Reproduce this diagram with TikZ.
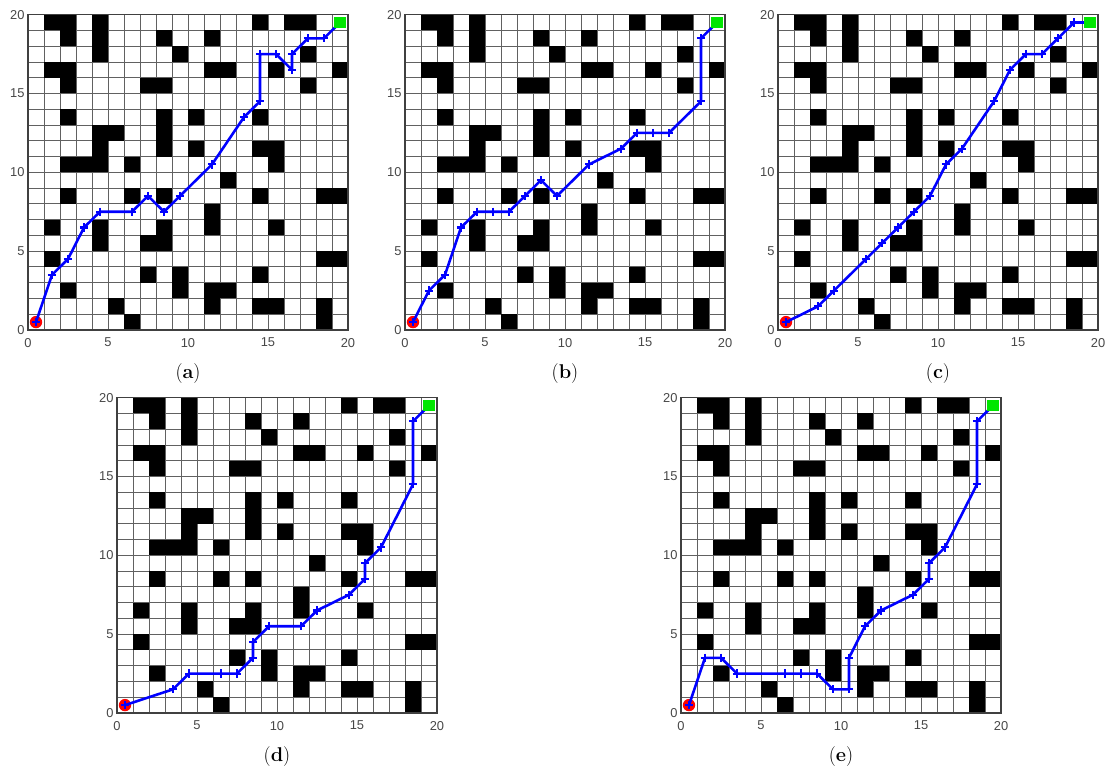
\documentclass[tikz,border=0pt]{standalone}
\usepackage{fontspec}
\setsansfont{Liberation Sans}
\usepackage{tikz}
\usepackage{xcolor}

\definecolor{routeblue}{RGB}{0,0,255}
\definecolor{goalgreen}{RGB}{0,230,0}
\definecolor{startred}{RGB}{255,0,0}

\newcommand{\blocks}{1/19,2/19,4/19,14/19,16/19,17/19,
  2/18,4/18,8/18,11/18,
  4/17,9/17,17/17,
  1/16,2/16,11/16,12/16,15/16,19/16,
  2/15,7/15,8/15,17/15,
  2/13,8/13,10/13,14/13,
  4/12,5/12,8/12,
  4/11,8/11,10/11,14/11,15/11,
  2/10,3/10,4/10,6/10,15/10,
  12/9,
  2/8,6/8,8/8,14/8,18/8,19/8,
  11/7,
  1/6,4/6,8/6,11/6,15/6,
  4/5,7/5,8/5,
  1/4,18/4,19/4,
  7/3,9/3,14/3,
  2/2,9/2,11/2,12/2,
  5/1,11/1,14/1,15/1,18/1,
  6/0,18/0}

\newcommand{\mazepanel}[4]{%
  \begin{scope}[xshift=#2cm, yshift=#3cm, x=0.48cm, y=0.473cm]
    \foreach \gl in {1,...,19} {
      \draw[cellline] (\gl,0) -- (\gl,20);
      \draw[cellline] (0,\gl) -- (20,\gl);
    }
    \foreach \cx/\cy in \blocks
      \fill[black] (\cx,\cy) rectangle ++(1,1);
    \draw[frameline] (0,0) rectangle (20,20);
    \foreach \tk in {0,5,10,15,20} {
      \node[ticklabel] (#1-x\tk) at (\tk,-0.8) {\tk};
      \node[ticklabel, anchor=east] (#1-y\tk) at (-0.2,\tk) {\tk};
    }
    \fill[startred] (0.5,0.5) circle (0.185cm);
    \draw[route] plot coordinates {#4};
    \node[goalbox] (#1-goal) at (19.5,19.5) {};
    \node[sublabel] (#1-label) at (10,-2.75) {(\textbf{#1})};
  \end{scope}}

\begin{document}
\begin{tikzpicture}[
    cellline/.style={black!62, line width=0.75pt},
    frameline/.style={black!75, line width=0.9pt},
    ticklabel/.style={font=\sffamily\fontsize{11}{13}\selectfont, text=black!72, inner sep=0pt},
    route/.style={routeblue, line width=2.2pt, line join=round, mark=+, mark size=3.5pt, mark options={line width=1.8pt}},
    goalbox/.style={rectangle, fill=goalgreen, inner sep=0pt, minimum size=0.35cm},
    sublabel/.style={font=\fontsize{17}{20}\selectfont, inner sep=0pt}]
    \useasboundingbox (0,0) rectangle (33.21,23.19);

    \mazepanel{a}{0.84}{13.29}{(0.5,0.5) (1.5,3.5) (2.5,4.5) (3.5,6.5) (4.5,7.5) (6.5,7.5) (7.5,8.5) (8.5,7.5) (9.5,8.5) (11.5,10.5) (13.5,13.5) (14.5,14.5) (14.5,17.5) (15.5,17.5) (16.5,16.5) (16.5,17.5) (17.5,18.5) (18.5,18.5) (19.5,19.5)}
    \mazepanel{b}{12.15}{13.29}{(0.5,0.5) (1.5,2.5) (2.5,3.5) (3.5,6.5) (4.5,7.5) (5.5,7.5) (6.5,7.5) (7.5,8.5) (8.5,9.5) (9.5,8.5) (11.5,10.5) (13.5,11.5) (14.5,12.5) (15.5,12.5) (16.5,12.5) (18.5,14.5) (18.5,18.5) (19.5,19.5)}
    \mazepanel{c}{23.34}{13.29}{(0.5,0.5) (2.5,1.5) (3.5,2.5) (5.5,4.5) (6.5,5.5) (7.5,6.5) (8.5,7.5) (9.5,8.5) (10.5,10.5) (11.5,11.5) (13.5,14.5) (14.5,16.5) (15.5,17.5) (16.5,17.5) (17.5,18.5) (18.5,19.5) (19.5,19.5)}
    \mazepanel{d}{3.51}{1.80}{(0.5,0.5) (3.5,1.5) (4.5,2.5) (6.5,2.5) (7.5,2.5) (8.5,3.5) (8.5,4.5) (9.5,5.5) (11.5,5.5) (12.5,6.5) (14.5,7.5) (15.5,8.5) (15.5,9.5) (16.5,10.5) (18.5,14.5) (18.5,18.5) (19.5,19.5)}
    \mazepanel{e}{20.43}{1.80}{(0.5,0.5) (1.5,3.5) (2.5,3.5) (3.5,2.5) (6.5,2.5) (7.5,2.5) (8.5,2.5) (9.5,1.5) (10.5,1.5) (10.5,3.5) (11.5,5.5) (12.5,6.5) (14.5,7.5) (15.5,8.5) (15.5,9.5) (16.5,10.5) (18.5,14.5) (18.5,18.5) (19.5,19.5)}
\end{tikzpicture}
\end{document}
